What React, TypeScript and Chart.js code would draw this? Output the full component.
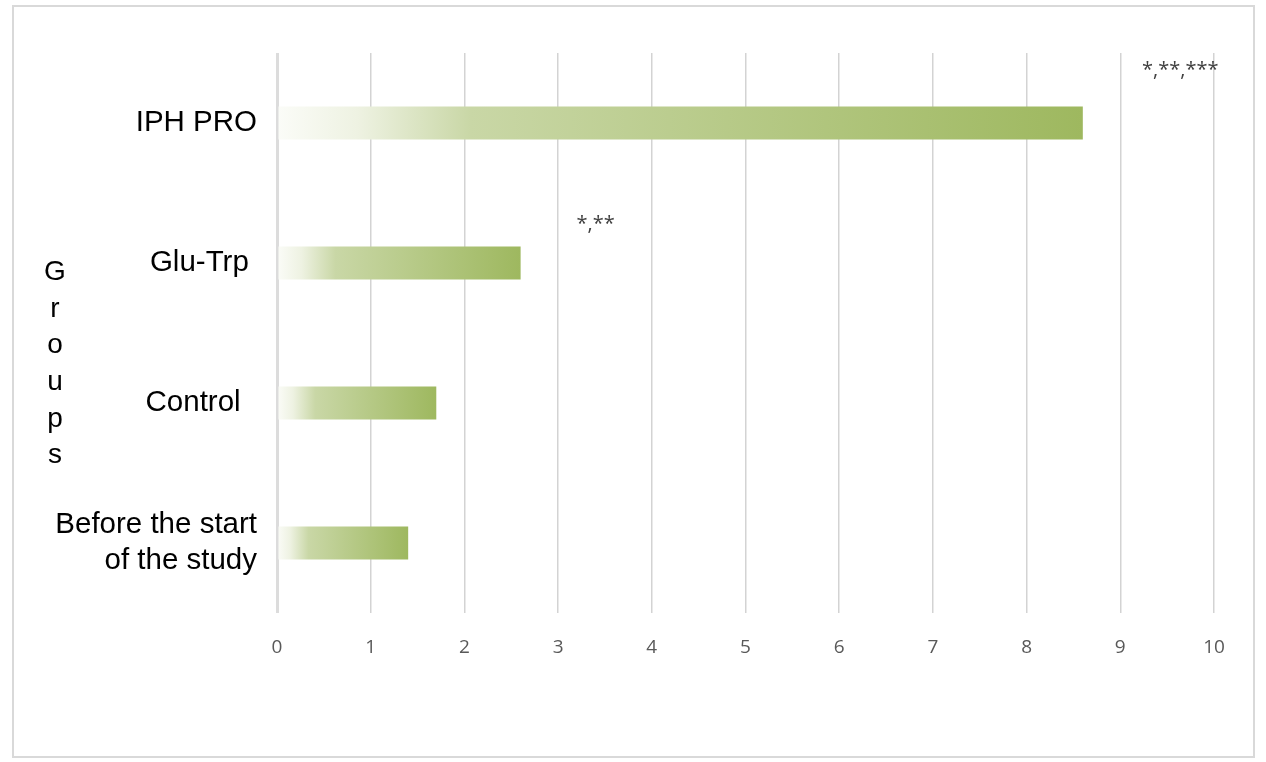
import React, { useEffect, useRef } from "react";
import { Chart, registerables } from "chart.js";

Chart.register(...registerables);

// Groups and their measured values
const groups = ["IPH PRO", "Glu-Trp", "Control", ["Before the start", "of the study"]];
const values = [8.6, 2.6, 1.7, 1.4];

// Significance marks shown above the bars
const marks = ["*,**,***", "*,**", "", ""];
const markX = [9.64, 3.4, 0, 0];

const xTicks = [0, 1, 2, 3, 4, 5, 6, 7, 8, 9, 10];
const axisTitle = "Groups";

// trailing spaces after the single-line group names
const labelPad = [0, 1, 2, 0];

const LABEL_FONT = "'Liberation Sans', Arial, sans-serif";

const frameAndLabels = {
  id: "frameAndLabels",
  beforeDraw(chart: Chart) {
    const { ctx } = chart;
    ctx.save();
    ctx.fillStyle = "#ffffff";
    ctx.fillRect(0, 0, chart.width, chart.height);
    ctx.strokeStyle = "#d9d9d9";
    ctx.lineWidth = 2;
    ctx.strokeRect(13, 6, 1241, 751);
    ctx.restore();
  },
  afterDraw(chart: Chart) {
    const { ctx } = chart;
    const xs = chart.scales.x;
    const ys = chart.scales.y;
    ctx.save();
    // vertical, letter-stacked axis title
    ctx.fillStyle = "#000000";
    ctx.font = `28px ${LABEL_FONT}`;
    ctx.textAlign = "center";
    ctx.textBaseline = "middle";
    const letters = axisTitle.split("");
    const step = 36.6;
    const midY = (ys.top + ys.bottom) / 2 + 31;
    letters.forEach((ch, i) => {
      ctx.fillText(ch, 55, midY + (i - (letters.length - 1) / 2) * step);
    });
    // significance marks
    ctx.fillStyle = "#404040";
    ctx.font = "20px 'Open Sans', sans-serif";
    const band = ys.getPixelForValue(1) - ys.getPixelForValue(0);
    marks.forEach((m, i) => {
      if (!m) return;
      const x = xs.getPixelForValue(markX[i]);
      const lift = i === 0 ? 0.38 : 0.28;
      const y = ys.getPixelForValue(i) - band * lift;
      ctx.fillText(m, x, y);
    });
    ctx.restore();
  },
};

export default function App() {
  const canvasRef = useRef<HTMLCanvasElement | null>(null);

  useEffect(() => {
    const canvas = canvasRef.current;
    if (!canvas) return;
    const chart = new Chart(canvas, {
      type: "bar",
      data: {
        labels: groups as any,
        datasets: [
          {
            data: values,
            borderWidth: 0,
            categoryPercentage: 1,
            barPercentage: 0.236,
            backgroundColor: (c: any) => {
              const ch = c.chart;
              const xs = ch.scales && ch.scales.x;
              if (!xs || c.raw == null) return "#b5c98a";
              const x0 = xs.getPixelForValue(0);
              const x1 = xs.getPixelForValue(c.raw);
              if (!Number.isFinite(x0) || !Number.isFinite(x1) || x1 <= x0) return "#b5c98a";
              const g = ch.ctx.createLinearGradient(x0, 0, x1, 0);
              g.addColorStop(0, "#fbfcf8");
              g.addColorStop(0.1, "#eef2e2");
              g.addColorStop(0.24, "#c9d7a6");
              g.addColorStop(1, "#9eb85f");
              return g;
            },
          },
        ],
      },
      options: {
        indexAxis: "y",
        responsive: false,
        animation: false,
        devicePixelRatio: 1,
        layout: { padding: { left: 0, right: 52, top: 53, bottom: 0 } },
        plugins: {
          legend: { display: false },
          tooltip: { enabled: false },
        },
        scales: {
          x: {
            min: 0,
            max: 10,
            afterFit: (s: any) => {
              s.height = 149;
            },
            afterBuildTicks: (s: any) => {
              s.ticks = xTicks.map((v) => ({ value: v }));
            },
            border: { display: false },
            grid: {
              drawTicks: false,
              color: (c: any) => (c.index === 0 ? "#dcdcdc" : "#d3d3d3"),
              lineWidth: (c: any) => (c.index === 0 ? 3 : 1.5),
            },
            ticks: {
              padding: 23,
              color: "#595959",
              font: { family: "'Open Sans', sans-serif", size: 19 },
            },
          },
          y: {
            afterFit: (s: any) => {
              s.width = 277;
              s.paddingTop = 0;
              s.paddingBottom = 0;
            },
            border: { display: false },
            grid: { display: false, drawTicks: false },
            ticks: {
              padding: 20,
              color: "#000000",
              font: { family: LABEL_FONT, size: 29.5, lineHeight: 1.22 },
              callback: (_v: any, i: number) => {
                const g = groups[i];
                return Array.isArray(g) ? g : g + " ".repeat(labelPad[i]);
              },
            },
          },
        },
      },
      plugins: [frameAndLabels],
    });
    // re-render so the gradients are built from settled scales
    chart.update("none");
    return () => chart.destroy();
  }, []);

  return (
    <div style={{ position: "fixed", left: 0, top: 0, width: 1266, height: 762, background: "#fff" }}>
      <canvas ref={canvasRef} width={1266} height={762} style={{ display: "block" }} />
    </div>
  );
}
